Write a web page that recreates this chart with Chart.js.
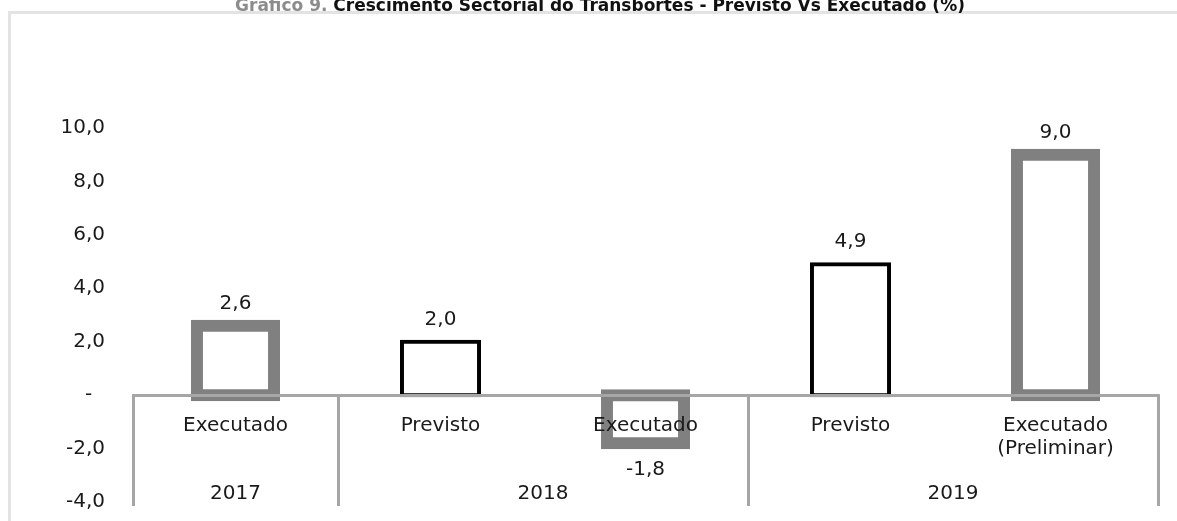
<!DOCTYPE html>
<html>
<head>
<meta charset="utf-8">
<script src="https://cdn.jsdelivr.net/npm/chart.js@4.4.1/dist/chart.umd.min.js"></script>
<style>
  html, body { margin: 0; padding: 0; background: #fff; }
  #wrap { position: relative; width: 1177px; height: 521px; overflow: hidden; }
  #frame { position: absolute; left: 8px; top: 11px; width: 1300px; height: 700px;
           border-top: 3px solid #e3e3e3; border-left: 3px solid #e3e3e3; }
  #chart { position: absolute; left: 0; top: 0; }
</style>
</head>
<body>
<div id="wrap">
  <div id="frame"></div>
  <canvas id="chart" width="1177" height="521"></canvas>
</div>
<script>
// --- data ---
const titlePrefix = 'Gráfico 9.';
const titleText = ' Crescimento Sectorial do Transbortes - Previsto Vs Executado (%)';
const categories = ['Executado', 'Previsto', 'Executado', 'Previsto', ['Executado', '(Preliminar)']];
const barKinds = ['Executado', 'Previsto', 'Executado', 'Previsto', 'Executado'];
const values = [2.6, 2.0, -1.8, 4.9, 9.0];
const years = ['2017', '2018', '2019'];
const yearSpans = [1, 2, 2];
const yTicks = [-4, -2, 0, 2, 4, 6, 8, 10];

const FONT = 'DejaVu Sans';
const TEXT = '#1a1a1a';
const AXIS_GREY = '#a6a6a6';

const fmt = v => v.toFixed(1).replace('.', ',');
const isExec = i => barKinds[i] === 'Executado';

// value labels above / below bars
const valueLabels = {
    id: 'valueLabels',
    afterDraw(chart) {
        const ctx = chart.ctx;
        const meta = chart.getDatasetMeta(0);
        ctx.save();
        ctx.font = '20px "' + FONT + '"';
        ctx.fillStyle = TEXT;
        ctx.textAlign = 'center';
        ctx.textBaseline = 'middle';
        meta.data.forEach((bar, i) => {
            const v = values[i];
            const y = v >= 0 ? bar.y - 22 : bar.y + 27;
            ctx.fillText(fmt(v), bar.x, y);
        });
        ctx.restore();
    }
};

// year groups under the category labels + separator lines
const yearGroups = {
    id: 'yearGroups',
    afterDraw(chart) {
        const ctx = chart.ctx;
        const x = chart.scales.x;
        const y0 = chart.scales.y.getPixelForValue(0);
        const bottom = chart.chartArea.bottom + 4;
        ctx.save();
        ctx.strokeStyle = AXIS_GREY;
        ctx.lineWidth = 3;
        ctx.font = '20px "' + FONT + '"';
        ctx.fillStyle = TEXT;
        ctx.textAlign = 'center';
        ctx.textBaseline = 'alphabetic';
        let start = 0;
        const edges = [-0.5];
        years.forEach((yr, g) => {
            const left = start - 0.5;
            const right = start + yearSpans[g] - 0.5;
            edges.push(right);
            const cx = x.getPixelForValue((left + right) / 2);
            ctx.fillText(yr, cx, chart.chartArea.bottom - 3);
            start += yearSpans[g];
        });
        edges.forEach(e => {
            const px = Math.round(x.getPixelForValue(e)) + 0.5;
            ctx.beginPath();
            ctx.moveTo(px, y0 - 1);
            ctx.lineTo(px, bottom);
            ctx.stroke();
        });
        ctx.restore();
    }
};

// two-colour title, partly cut at the top like the source
const splitTitle = {
    id: 'splitTitle',
    afterDraw(chart) {
        const ctx = chart.ctx;
        ctx.save();
        ctx.font = 'bold 17px "' + FONT + '"';
        ctx.textBaseline = 'alphabetic';
        ctx.textAlign = 'left';
        const w1 = ctx.measureText(titlePrefix).width;
        const w2 = ctx.measureText(titleText).width;
        let tx = 600 - (w1 + w2) / 2;
        ctx.fillStyle = '#8c8c8c';
        ctx.fillText(titlePrefix, tx, 11);
        ctx.fillStyle = '#111';
        ctx.fillText(titleText, tx + w1, 11);
        ctx.restore();
    }
};

new Chart(document.getElementById('chart'), {
    type: 'bar',
    data: {
        labels: categories,
        datasets: [{
            data: values,
            backgroundColor: '#ffffff',
            borderColor: values.map((v, i) => isExec(i) ? '#808080' : '#000000'),
            borderWidth: values.map((v, i) => isExec(i) ? 12 : 4),
            inflateAmount: values.map((v, i) => isExec(i) ? 6 : 2),
            borderSkipped: false,
            barPercentage: 0.376,
            categoryPercentage: 1.0
        }]
    },
    options: {
        responsive: false,
        animation: false,
        layout: { padding: { top: 128, bottom: 19, left: 0, right: 19 } },
        plugins: {
            legend: { display: false },
            tooltip: { enabled: false },
            title: { display: false }
        },
        scales: {
            y: {
                min: -4,
                max: 10,
                afterBuildTicks: scale => { scale.ticks = yTicks.map(v => ({ value: v })); },
                afterFit: scale => {
                    scale.width = 133;
                    scale.paddingTop = 0;
                    scale.paddingBottom = 0;
                },
                grid: { display: false, drawTicks: false },
                border: { display: false },
                ticks: {
                    padding: 28,
                    color: TEXT,
                    font: { family: FONT, size: 20 },
                    callback: v => v === 0 ? '-  ' : fmt(v)
                }
            },
            x: {
                type: 'category',
                position: { y: 0 },
                offset: true,
                afterFit: scale => {
                    scale.height = 0;
                    scale.paddingTop = 0;
                    scale.paddingBottom = 0;
                },
                grid: { display: true, drawOnChartArea: false, drawTicks: false },
                border: { display: true, color: AXIS_GREY, width: 3, z: 1 },
                ticks: {
                    z: 1,
                    padding: 19,
                    color: TEXT,
                    autoSkip: false,
                    maxRotation: 0,
                    font: { family: FONT, size: 20, lineHeight: 1.15 }
                }
            }
        }
    },
    plugins: [valueLabels, yearGroups, splitTitle]
});
</script>
</body>
</html>
